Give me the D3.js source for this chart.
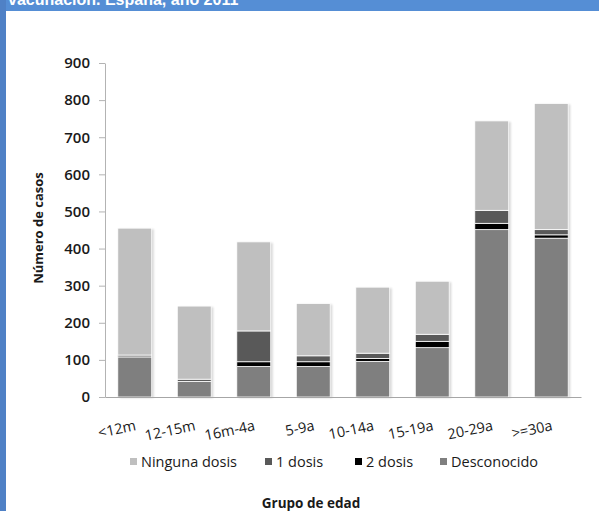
<!DOCTYPE html>
<html>
<head>
<meta charset="utf-8">
<script src="https://cdn.jsdelivr.net/npm/d3@7"></script>
<style>
  body { margin: 0; background: #fff; }
  svg { display: block; }
  text { font-family: "Open Sans", "Noto Sans", sans-serif; fill: #1a1a1a; }
</style>
</head>
<body>
<div id="vis"></div>
<script>
// chart values
const categories = ["<12m", "12-15m", "16m-4a", "5-9a", "10-14a", "15-19a", "20-29a", ">=30a"];
const desconocido = [108, 42, 82, 82, 96, 133, 451, 428];
const dosDosis = [0, 0, 13, 13, 8, 17, 17, 9];
const unaDosis = [5, 6, 83, 16, 14, 19, 35, 14];
const ningunaDosis = [342, 197, 240, 141, 178, 143, 241, 340];
const yTicks = [0, 100, 200, 300, 400, 500, 600, 700, 800, 900];

const seriesKeys = ["desconocido", "dos", "una", "ninguna"]; // bottom -> top
const seriesNames = new Map();
seriesNames.set("ninguna", "Ninguna dosis");
seriesNames.set("una", "1 dosis");
seriesNames.set("dos", "2 dosis");
seriesNames.set("desconocido", "Desconocido");

const colors = new Map();
colors.set("ninguna", "#bfbfbf");
colors.set("una", "#595959");
colors.set("dos", "#000000");
colors.set("desconocido", "#7f7f7f");

const width = 599;
const height = 511;

const rows = categories.map(function(c, i) {
  return { cat: c, desconocido: desconocido[i], dos: dosDosis[i], una: unaDosis[i], ninguna: ningunaDosis[i] };
});

const svg = d3.select("#vis")
  .append("svg")
  .attr("width", width)
  .attr("height", height);

// header band + left frame (title is cut at the top, as in the source)
svg.append("rect")
  .attr("x", 0).attr("y", 0)
  .attr("width", width).attr("height", 11)
  .attr("fill", "#558ed5");
svg.append("rect")
  .attr("x", 0).attr("y", 0)
  .attr("width", 6).attr("height", height)
  .attr("fill", "#4f81c6");
svg.append("text")
  .attr("x", 8).attr("y", 5)
  .style("font-family", "'Liberation Sans', Arial, sans-serif")
  .style("font-weight", "bold")
  .style("font-size", "16px")
  .style("fill", "#fff")
  .text("vacunación. España, año 2011");

const x = d3.scaleBand()
  .domain(categories)
  .range([105, 581])
  .paddingInner(0.43)
  .paddingOuter(0.215);

const y = d3.scaleLinear()
  .domain([0, 900])
  .range([397, 63]);

// soft shadow like the original
const defs = svg.append("defs");
defs.append("filter")
  .attr("id", "shadow")
  .attr("x", "-20%").attr("y", "-5%")
  .attr("width", "140%").attr("height", "110%")
  .append("feGaussianBlur")
  .attr("stdDeviation", 1.2);

const stacked = d3.stack().keys(seriesKeys)(rows);
const totals = rows.map(function(d) { return d.desconocido + d.dos + d.una + d.ninguna; });

svg.append("g")
  .selectAll("rect")
  .data(rows)
  .join("rect")
    .attr("x", function(d) { return x(d.cat) + 2; })
    .attr("y", function(d, i) { return y(totals[i]) + 1; })
    .attr("width", x.bandwidth())
    .attr("height", function(d, i) { return y(0) - y(totals[i]); })
    .attr("fill", "#000")
    .attr("opacity", 0.16)
    .attr("filter", "url(#shadow)");

svg.append("g")
  .selectAll("g")
  .data(stacked)
  .join("g")
    .attr("fill", function(s) { return colors.get(s.key); })
  .selectAll("rect")
  .data(function(s) { return s.filter(function(d) { return d[1] > d[0]; }); })
  .join("rect")
    .attr("x", function(d) { return x(d.data.cat); })
    .attr("y", function(d) { return y(d[1]); })
    .attr("width", x.bandwidth())
    .attr("height", function(d) { return y(d[0]) - y(d[1]); })
    .attr("stroke", "#fff")
    .attr("stroke-width", 0.8);

// y axis
const yAxis = svg.append("g")
  .attr("transform", "translate(105,0)")
  .call(d3.axisLeft(y).tickValues(yTicks).tickSize(6).tickPadding(9).tickSizeOuter(0));
yAxis.select(".domain").attr("stroke", "#b3b3b3");
yAxis.selectAll(".tick line").attr("stroke", "#b3b3b3");
yAxis.selectAll(".tick text")
  .style("font-size", "15px")
  .style("font-weight", "600")
  .style("fill", "#1a1a1a");

// x axis line
const xAxis = svg.append("g")
  .attr("transform", "translate(0,397)")
  .call(d3.axisBottom(x).tickSize(0).tickFormat(""));
xAxis.select(".domain").attr("stroke", "#a6a6a6").attr("stroke-width", 1.2);

svg.append("g")
  .selectAll("text")
  .data(categories)
  .join("text")
    .attr("transform", function(d) {
      return "translate(" + (x(d) + x.bandwidth() / 2 + 2) + ",430) rotate(-12)";
    })
    .attr("text-anchor", "end")
    .style("font-size", "14.5px")
    .text(function(d) { return d; });

// legend
const legendItems = ["ninguna", "una", "dos", "desconocido"];
const legendX = [130, 265, 355, 440];
const legend = svg.append("g")
  .selectAll("g")
  .data(legendItems)
  .join("g")
    .attr("transform", function(d, i) { return "translate(" + legendX[i] + ",462)"; });
legend.append("rect")
  .attr("x", 0).attr("y", -4)
  .attr("width", 7).attr("height", 7)
  .attr("fill", function(d) { return colors.get(d); });
legend.append("text")
  .attr("x", 11).attr("y", 5)
  .style("font-size", "14.5px")
  .text(function(d) { return seriesNames.get(d); });

// axis titles
svg.append("text")
  .attr("transform", "translate(43,228) rotate(-90)")
  .attr("text-anchor", "middle")
  .style("font-size", "13px")
  .style("font-weight", "bold")
  .text("Número de casos");

svg.append("text")
  .attr("x", 311).attr("y", 508)
  .attr("text-anchor", "middle")
  .style("font-size", "13.5px")
  .style("font-weight", "bold")
  .text("Grupo de edad");
</script>
</body>
</html>
